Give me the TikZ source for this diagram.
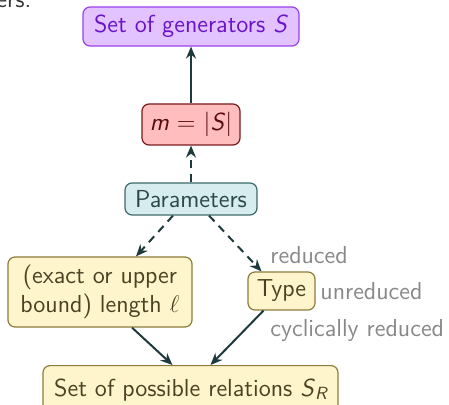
\documentclass[tikz,border=0pt]{standalone}
\usetikzlibrary{arrows.meta}
\definecolor{pfill}{HTML}{E2C2FF}
\definecolor{pdraw}{HTML}{9A40E8}
\definecolor{ptext}{HTML}{6A14C8}
\definecolor{rfill}{HTML}{FFBDBD}
\definecolor{rdraw}{HTML}{7A1A1A}
\definecolor{rtext}{HTML}{5A0A0A}
\definecolor{tfill}{HTML}{D6ECEE}
\definecolor{tdraw}{HTML}{3E6A6A}
\definecolor{ttext}{HTML}{2C4848}
\definecolor{yfill}{HTML}{FFF5CC}
\definecolor{ydraw}{HTML}{8C7C3C}
\definecolor{ytext}{HTML}{4A4222}
\definecolor{arr}{HTML}{1E3A3C}
\definecolor{graytxt}{HTML}{888888}
\begin{document}
\begin{tikzpicture}[x=0.5pt,y=-0.5pt,
  font=\sffamily\fontsize{12.3}{14.5}\selectfont,
  box/.style={rounded corners=3.5pt, line width=0.6pt, inner sep=0pt},
  purplebox/.style={box, fill=pfill, draw=pdraw, text=ptext},
  redbox/.style={box, fill=rfill, draw=rdraw, text=rtext},
  tealbox/.style={box, fill=tfill, draw=tdraw, text=ttext},
  yellowbox/.style={box, fill=yfill, draw=ydraw, text=ytext},
  conn/.style={draw=arr, line width=1pt, -{Stealth[length=6pt,width=5pt]}},
  dconn/.style={conn, dash pattern=on 4pt off 3pt},
  note/.style={text=graytxt, anchor=west, inner sep=0pt}]
\useasboundingbox (0,0) rectangle (449,405);
\node[text=black!80, anchor=base west, inner sep=0pt] (prev) at (-4,8) {ers.};
\node[purplebox, minimum width=108pt, minimum height=19.5pt] (gen) at (191,26.5) {Set of generators \textit{S}};
\node[redbox, minimum width=49pt, minimum height=20.5pt] (m) at (191,124.5) {\textit{m} = |\textit{S}|};
\node[tealbox, minimum width=66pt, minimum height=16pt] (par) at (191,199) {Parameters};
\node[yellowbox, minimum width=92pt, minimum height=35pt, align=center] (len) at (100,292) {(exact or upper\\bound) length $\ell$};
\node[yellowbox, minimum width=33.5pt, minimum height=19pt] (type) at (281.5,291) {Type};
\node[yellowbox, minimum width=147.5pt, minimum height=24pt, anchor=north] (rel) at (190.5,365) {Set of possible relations \textit{S}\raisebox{-0.35ex}{\fontsize{8.8}{10}\selectfont\itshape R}};
\node[note] (red) at (270,255) {reduced};
\node[note] (unred) at (320,291) {unreduced};
\node[note] (cyc) at (270,330) {cyclically reduced};
\draw[conn] (m) -- (gen);
\draw[dconn] (par) -- (m);
\draw[dconn] ([xshift=-9pt]par.south) -- ([xshift=18pt]len.north);
\draw[dconn] ([xshift=9pt]par.south) -- ([xshift=-10pt]type.north);
\draw[conn] ([xshift=16pt]len.south) -- ([xshift=-9pt]rel.north);
\draw[conn] ([xshift=-9pt]type.south) -- ([xshift=10pt]rel.north);
\end{tikzpicture}
\end{document}
